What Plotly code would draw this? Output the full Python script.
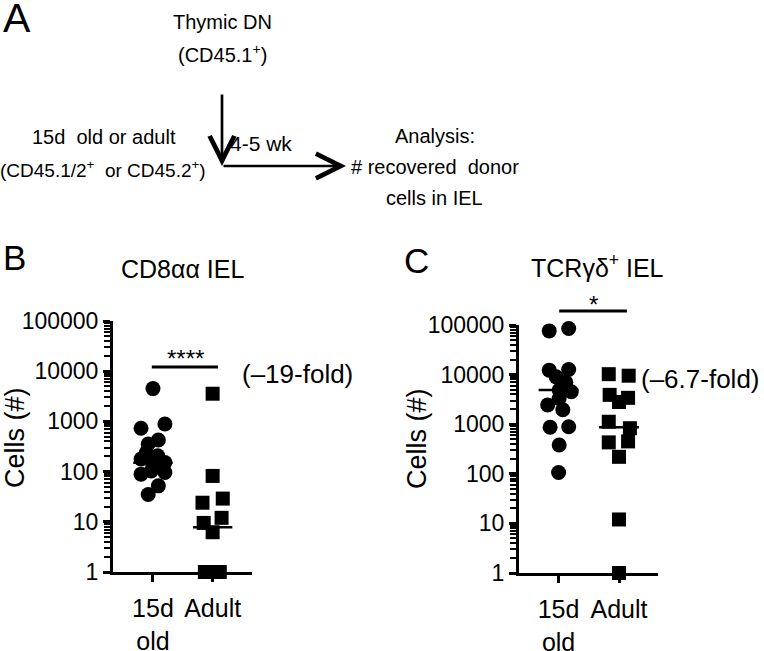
import plotly.graph_objects as go

W, H = 764, 651

# ---------------- data ----------------
categories = ["15d<br>old", "Adult"]

b_young = [4500, 730, 890, 425, 355, 240, 207, 178, 165, 152, 130, 89, 96, 103, 52, 35]
b_young_jitter = [0.0, -0.2, 0.2, 0.09, -0.08, -0.11, 0.08, -0.2, -0.03, 0.2, 0.06, -0.2, 0.2, -0.03, 0.09, -0.08]
b_adult = [3560, 82, 24, 29, 12, 9.5, 6.2, 1, 1, 1]
b_adult_jitter = [0.0, 0.0, -0.17, 0.17, 0.15, -0.15, 0.0, -0.13, 0.0, 0.12]
b_medians = [150, 7.8]

c_young = [76000, 85000, 12300, 12700, 9000, 7000, 4500, 4900, 3300, 2450, 1950, 870, 890, 380, 106]
c_young_jitter = [-0.155, 0.167, -0.155, 0.167, -0.04, 0.12, 0.21, 0.01, 0.01, -0.18, 0.07, -0.14, 0.167, 0.01, 0.0]
c_adult = [10200, 9500, 3900, 3400, 2800, 1120, 830, 450, 430, 220, 12, 1]
c_adult_jitter = [-0.17, 0.16, -0.155, 0.15, 0.0, -0.17, 0.18, 0.15, -0.17, 0.0, 0.0, 0.0]
c_medians = [4900, 870]

y_tickvals = [1, 10, 100, 1000, 10000, 100000]
y_ticktext = ["1", "10", "100", "1000", "10000", "100000"]
y_minor = [m * 10 ** e for e in range(0, 5) for m in range(2, 10)]

FONT = "Liberation Sans, Arial, sans-serif"


def px(x):
    return x / W


def py(y):
    return 1 - y / H


fig = go.Figure()


def add_panel(young, yj, adult, aj, meds, xa, ya):
    fig.add_trace(go.Scatter(
        x=[0 + j for j in yj], y=young, mode="markers", xaxis=xa, yaxis=ya,
        marker=dict(symbol="circle", size=15, color="black", line=dict(width=0)),
        cliponaxis=False, showlegend=False, hoverinfo="y"))
    fig.add_trace(go.Scatter(
        x=[1 + j for j in aj], y=adult, mode="markers", xaxis=xa, yaxis=ya,
        marker=dict(symbol="square", size=14, color="black", line=dict(width=0)),
        cliponaxis=False, showlegend=False, hoverinfo="y"))
    for i, m in enumerate(meds):
        fig.add_trace(go.Scatter(
            x=[i - 0.33, i + 0.33], y=[m, m], mode="lines", xaxis=xa, yaxis=ya,
            line=dict(color="black", width=2.5), cliponaxis=False,
            showlegend=False, hoverinfo="skip"))


add_panel(b_young, b_young_jitter, b_adult, b_adult_jitter, b_medians, "x", "y")
add_panel(c_young, c_young_jitter, c_adult, c_adult_jitter, c_medians, "x2", "y2")

xaxis_common = dict(
    tickmode="array", tickvals=[0, 1], ticktext=categories,
    showline=True, linecolor="black", linewidth=3, ticks="outside",
    ticklen=7, tickwidth=2.5, tickcolor="black", showgrid=False, zeroline=False,
    tickfont=dict(family=FONT, size=25, color="black"), fixedrange=True,
    automargin=False, ticklabelstandoff=5,
)
yaxis_common = dict(
    type="log", range=[0, 5], tickmode="array", tickvals=y_tickvals, ticktext=y_ticktext,
    showline=True, linecolor="black", linewidth=3, ticks="outside",
    ticklen=7, tickwidth=2.5, tickcolor="black", showgrid=False, zeroline=False,
    tickfont=dict(family=FONT, size=23, color="black"),
    minor=dict(tickmode="array", tickvals=y_minor, ticks="outside", ticklen=6,
               tickwidth=2, tickcolor="black", showgrid=False),
    fixedrange=True, automargin=False,
)

fig.update_layout(
    width=W, height=H, margin=dict(l=0, r=0, t=0, b=0, autoexpand=False),
    paper_bgcolor="white", plot_bgcolor="white", showlegend=False,
    xaxis=dict(xaxis_common, domain=[px(113), px(252)], range=[-0.67, 1.66], anchor="y"),
    yaxis=dict(yaxis_common, domain=[py(572), py(321)], anchor="x"),
    xaxis2=dict(xaxis_common, domain=[px(519), px(658)], range=[-0.655, 1.645], anchor="y2"),
    yaxis2=dict(yaxis_common, domain=[py(573), py(325)], anchor="x2"),
)

ann = []


def text(x, y, s, size, xanchor="center", angle=0):
    ann.append(dict(x=px(x), y=py(y), xref="paper", yref="paper", text=s, showarrow=False,
                    xanchor=xanchor, yanchor="middle", textangle=angle,
                    font=dict(family=FONT, size=size, color="black")))


# Panel A
text(1, 18, "A", 41, xanchor="left")
text(222, 22, "Thymic DN", 20)
text(222, 53, "(CD45.1<sup>+</sup>)", 20)
text(104, 137, "15d  old or adult", 20)
text(103, 169, "(CD45.1/2<sup>+</sup>  or CD45.2<sup>+</sup>)", 19)
text(261, 143, "4-5 wk", 21)
text(435, 136, "Analysis:", 20)
text(435, 167, "# recovered  donor", 20)
text(435, 198, "cells in IEL", 20)

# arrows
ann.append(dict(x=px(222), y=py(166), xref="paper", yref="paper", ax=0, ay=-73,
                axref="pixel", ayref="pixel", text="", showarrow=True,
                arrowhead=5, arrowsize=1.8, arrowwidth=2.7, arrowcolor="black"))
ann.append(dict(x=px(346), y=py(166), xref="paper", yref="paper", ax=-124, ay=0,
                axref="pixel", ayref="pixel", text="", showarrow=True,
                arrowhead=5, arrowsize=1.8, arrowwidth=2.7, arrowcolor="black"))

# Panel B
text(1, 257, "B", 35, xanchor="left")
text(182, 269, "CD8αα IEL", 25)
text(185, 358, "****", 24)
text(297, 374, "(–19-fold)", 26)
text(15, 438, "Cells (#)", 27, angle=-90)

# Panel C
text(402, 260, "C", 35, xanchor="left")
text(597, 266, "TCRγδ<sup>+</sup> IEL", 25)
text(593, 304, "*", 24)
text(700, 379, "(–6.7-fold)", 26)
text(417, 438, "Cells (#)", 27, angle=-90)

fig.update_layout(annotations=ann)

# significance bars
fig.add_shape(type="line", xref="x", yref="paper", x0=-0.02, x1=1.09,
              y0=py(367), y1=py(367), line=dict(color="black", width=3))
fig.add_shape(type="line", xref="x2", yref="paper", x0=0.01, x1=1.13,
              y0=py(311), y1=py(311), line=dict(color="black", width=3))

fig.write_html(
    "out.html",
    config={"displayModeBar": False},
    post_script="document.body.style.margin='0';document.body.style.overflow='hidden';",
)
